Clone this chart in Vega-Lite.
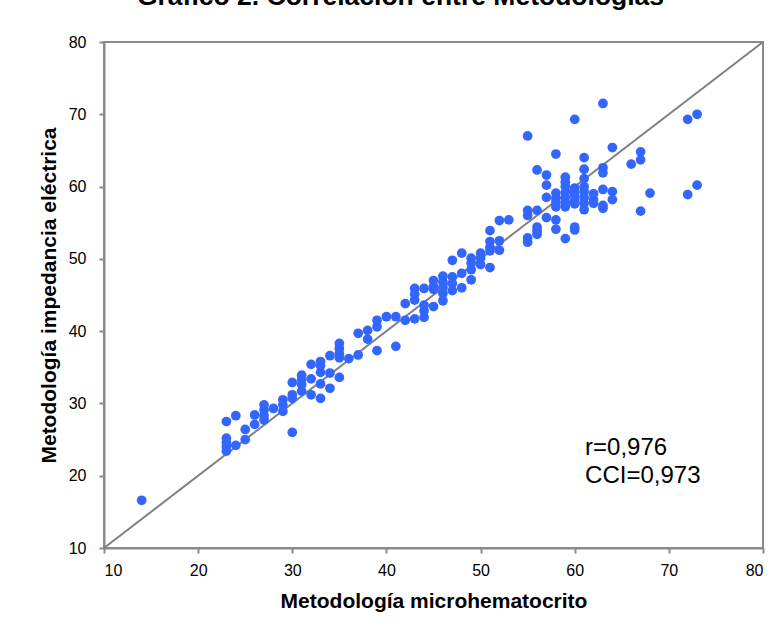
{
  "$schema": "https://vega.github.io/schema/vega-lite/v6.json",
  "width": 659,
  "height": 506,
  "autosize": {"type": "none"},
  "padding": {"left": 104, "top": 42, "right": 15, "bottom": 80},
  "background": "white",
  "title": {
    "text": "Gráfico 2. Correlación entre Metodologías",
    "font": "Liberation Sans",
    "fontSize": 26.5,
    "fontWeight": "bold",
    "color": "black",
    "anchor": "middle",
    "frame": "group",
    "baseline": "alphabetic",
    "offset": 3,
    "dx": -33
  },
  "config": {
    "font": "Liberation Sans",
    "view": {"stroke": "#8a8a8a", "strokeWidth": 2},
    "axis": {
      "grid": false,
      "domainColor": "#8a8a8a",
      "domainWidth": 2,
      "tickColor": "#8a8a8a",
      "tickWidth": 2,
      "tickSize": 5,
      "labelFont": "Liberation Sans",
      "labelFontSize": 16,
      "labelColor": "black",
      "titleFont": "Liberation Sans",
      "titleFontSize": 21,
      "titleFontWeight": "bold",
      "titleColor": "black"
    }
  },
  "datasets": {
    "points": [
      {"micro": 14, "imp": 16.6},
      {"micro": 23, "imp": 27.5}, {"micro": 23, "imp": 25.2}, {"micro": 23, "imp": 24.6}, {"micro": 23, "imp": 24.0}, {"micro": 23, "imp": 23.4},
      {"micro": 24, "imp": 28.3}, {"micro": 24, "imp": 24.2},
      {"micro": 25, "imp": 26.4}, {"micro": 25, "imp": 25.0},
      {"micro": 26, "imp": 28.4}, {"micro": 26, "imp": 27.1},
      {"micro": 27, "imp": 29.8}, {"micro": 27, "imp": 29.1}, {"micro": 27, "imp": 28.3}, {"micro": 27, "imp": 27.7},
      {"micro": 28, "imp": 29.3},
      {"micro": 29, "imp": 30.5}, {"micro": 29, "imp": 29.8}, {"micro": 29, "imp": 28.9},
      {"micro": 30, "imp": 32.9}, {"micro": 30, "imp": 31.2}, {"micro": 30, "imp": 30.7}, {"micro": 30, "imp": 26.0},
      {"micro": 31, "imp": 33.9}, {"micro": 31, "imp": 33.3}, {"micro": 31, "imp": 32.6}, {"micro": 31, "imp": 31.7},
      {"micro": 32, "imp": 35.4}, {"micro": 32, "imp": 33.4}, {"micro": 32, "imp": 31.2},
      {"micro": 33, "imp": 35.8}, {"micro": 33, "imp": 35.2}, {"micro": 33, "imp": 34.3}, {"micro": 33, "imp": 32.7}, {"micro": 33, "imp": 30.7},
      {"micro": 34, "imp": 36.6}, {"micro": 34, "imp": 34.2}, {"micro": 34, "imp": 32.1},
      {"micro": 35, "imp": 38.3}, {"micro": 35, "imp": 37.6}, {"micro": 35, "imp": 36.9}, {"micro": 35, "imp": 36.3}, {"micro": 35, "imp": 33.6},
      {"micro": 36, "imp": 36.2},
      {"micro": 37, "imp": 39.7}, {"micro": 37, "imp": 36.7},
      {"micro": 38, "imp": 40.1}, {"micro": 38, "imp": 38.9},
      {"micro": 39, "imp": 41.5}, {"micro": 39, "imp": 40.6}, {"micro": 39, "imp": 37.3},
      {"micro": 40, "imp": 42.0},
      {"micro": 41, "imp": 42.0}, {"micro": 41, "imp": 37.9},
      {"micro": 42, "imp": 43.8}, {"micro": 42, "imp": 41.5},
      {"micro": 43, "imp": 45.9}, {"micro": 43, "imp": 45.1}, {"micro": 43, "imp": 44.3}, {"micro": 43, "imp": 41.7},
      {"micro": 44, "imp": 45.9}, {"micro": 44, "imp": 43.6}, {"micro": 44, "imp": 42.8}, {"micro": 44, "imp": 41.9},
      {"micro": 45, "imp": 47.0}, {"micro": 45, "imp": 46.2}, {"micro": 45, "imp": 45.8}, {"micro": 45, "imp": 43.4},
      {"micro": 46, "imp": 47.6}, {"micro": 46, "imp": 46.8}, {"micro": 46, "imp": 46.0}, {"micro": 46, "imp": 45.2}, {"micro": 46, "imp": 44.2},
      {"micro": 47, "imp": 49.8}, {"micro": 47, "imp": 47.5}, {"micro": 47, "imp": 46.6}, {"micro": 47, "imp": 45.6},
      {"micro": 48, "imp": 50.8}, {"micro": 48, "imp": 48.0}, {"micro": 48, "imp": 46.0},
      {"micro": 49, "imp": 50.1}, {"micro": 49, "imp": 49.4}, {"micro": 49, "imp": 48.5}, {"micro": 49, "imp": 47.1},
      {"micro": 50, "imp": 50.8}, {"micro": 50, "imp": 50.1}, {"micro": 50, "imp": 49.2},
      {"micro": 51, "imp": 53.9}, {"micro": 51, "imp": 52.4}, {"micro": 51, "imp": 51.6}, {"micro": 51, "imp": 51.1}, {"micro": 51, "imp": 48.8},
      {"micro": 52, "imp": 55.3}, {"micro": 52, "imp": 52.5}, {"micro": 52, "imp": 51.2},
      {"micro": 53, "imp": 55.4},
      {"micro": 55, "imp": 67.0}, {"micro": 55, "imp": 56.7}, {"micro": 55, "imp": 56.0}, {"micro": 55, "imp": 52.9}, {"micro": 55, "imp": 52.3},
      {"micro": 56, "imp": 62.3}, {"micro": 56, "imp": 56.7}, {"micro": 56, "imp": 54.4}, {"micro": 56, "imp": 53.9}, {"micro": 56, "imp": 53.4},
      {"micro": 57, "imp": 61.6}, {"micro": 57, "imp": 60.2}, {"micro": 57, "imp": 58.5}, {"micro": 57, "imp": 55.7},
      {"micro": 58, "imp": 64.5}, {"micro": 58, "imp": 59.1}, {"micro": 58, "imp": 58.4}, {"micro": 58, "imp": 57.8}, {"micro": 58, "imp": 57.2}, {"micro": 58, "imp": 55.4}, {"micro": 58, "imp": 54.1},
      {"micro": 59, "imp": 61.3}, {"micro": 59, "imp": 60.6}, {"micro": 59, "imp": 60.0}, {"micro": 59, "imp": 59.2}, {"micro": 59, "imp": 58.5}, {"micro": 59, "imp": 57.8}, {"micro": 59, "imp": 57.2}, {"micro": 59, "imp": 52.8},
      {"micro": 60, "imp": 69.3}, {"micro": 60, "imp": 59.8}, {"micro": 60, "imp": 59.2}, {"micro": 60, "imp": 58.7}, {"micro": 60, "imp": 58.0}, {"micro": 60, "imp": 57.6}, {"micro": 60, "imp": 54.4}, {"micro": 60, "imp": 54.0},
      {"micro": 61, "imp": 64.0}, {"micro": 61, "imp": 62.4}, {"micro": 61, "imp": 61.1}, {"micro": 61, "imp": 60.0}, {"micro": 61, "imp": 59.3}, {"micro": 61, "imp": 58.5}, {"micro": 61, "imp": 57.7}, {"micro": 61, "imp": 56.8},
      {"micro": 62, "imp": 59.0}, {"micro": 62, "imp": 58.2}, {"micro": 62, "imp": 57.7},
      {"micro": 63, "imp": 71.5}, {"micro": 63, "imp": 62.6}, {"micro": 63, "imp": 61.9}, {"micro": 63, "imp": 59.6}, {"micro": 63, "imp": 57.4}, {"micro": 63, "imp": 57.0},
      {"micro": 64, "imp": 65.4}, {"micro": 64, "imp": 59.3}, {"micro": 64, "imp": 58.2},
      {"micro": 66, "imp": 63.1},
      {"micro": 67, "imp": 64.8}, {"micro": 67, "imp": 63.7}, {"micro": 67, "imp": 56.6},
      {"micro": 68, "imp": 59.1},
      {"micro": 72, "imp": 69.3}, {"micro": 72, "imp": 58.9},
      {"micro": 73, "imp": 70.0}, {"micro": 73, "imp": 60.2}
    ],
    "identity": [
      {"micro": 10, "imp": 10},
      {"micro": 80, "imp": 80}
    ],
    "stats": [
      {"micro": 61.1, "imp": 22.9, "label": "r=0,976"},
      {"micro": 61.1, "imp": 19.0, "label": "CCI=0,973"}
    ]
  },
  "layer": [
    {
      "data": {"name": "identity"},
      "mark": {"type": "line", "color": "#808080", "strokeWidth": 2},
      "encoding": {
        "x": {"field": "micro", "type": "quantitative"},
        "y": {"field": "imp", "type": "quantitative"}
      }
    },
    {
      "data": {"name": "points"},
      "mark": {"type": "circle", "color": "#3366FF", "opacity": 1, "size": 95},
      "encoding": {
        "x": {
          "field": "micro",
          "type": "quantitative",
          "scale": {"domain": [10, 80], "nice": false, "zero": false},
          "axis": {"values": [10, 20, 30, 40, 50, 60, 70, 80], "labelPadding": 9, "title": "Metodología microhematocrito", "titlePadding": 12}
        },
        "y": {
          "field": "imp",
          "type": "quantitative",
          "scale": {"domain": [10, 80], "nice": false, "zero": false},
          "axis": {"values": [10, 20, 30, 40, 50, 60, 70, 80], "labelPadding": 13, "title": "Metodología impedancia eléctrica", "titlePadding": 9}
        }
      }
    },
    {
      "data": {"name": "stats"},
      "mark": {"type": "text", "align": "left", "baseline": "alphabetic", "fontSize": 24, "font": "Liberation Sans", "color": "black"},
      "encoding": {
        "x": {"field": "micro", "type": "quantitative"},
        "y": {"field": "imp", "type": "quantitative"},
        "text": {"field": "label"}
      }
    }
  ]
}
